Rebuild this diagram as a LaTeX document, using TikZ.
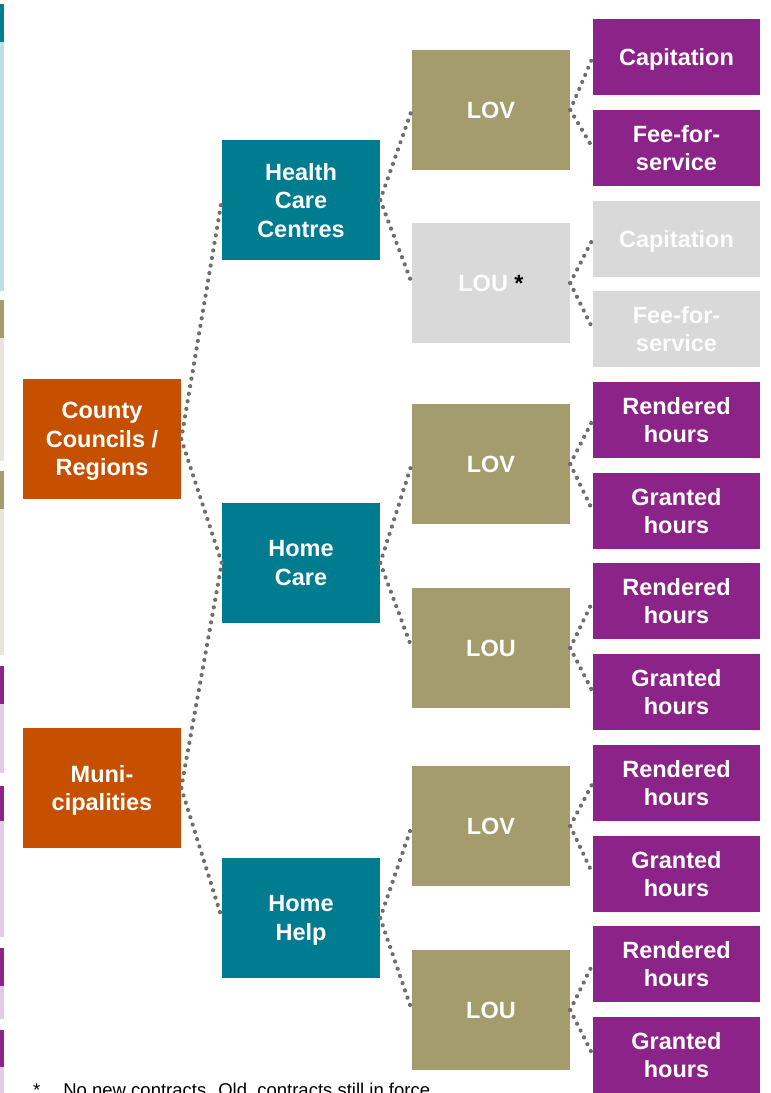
\documentclass[tikz,border=0pt]{standalone}
\usepackage{fontspec}
\setmainfont{Liberation Sans}
\definecolor{cOrange}{RGB}{199,80,0}
\definecolor{cTeal}{RGB}{0,124,145}
\definecolor{cTealL}{RGB}{191,223,228}
\definecolor{cOlive}{RGB}{164,156,108}
\definecolor{cOliveL}{RGB}{232,230,218}
\definecolor{cPurple}{RGB}{139,35,136}
\definecolor{cPurpleL}{RGB}{228,201,228}
\definecolor{cGrey}{RGB}{217,217,217}
\definecolor{cDot}{RGB}{110,110,110}
\begin{document}
\begin{tikzpicture}[x=1pt,y=-1pt,
  box/.style={minimum width=158pt,minimum height=120pt,inner sep=0pt,align=center,
    text depth=0pt,text=white,font=\fontsize{23.5}{28.5}\selectfont\bfseries},
  orangebox/.style={box,fill=cOrange},
  tealbox/.style={box,fill=cTeal},
  olivebox/.style={box,fill=cOlive},
  greybox/.style={box,fill=cGrey,text=white!95!cGrey},
  leafbox/.style={box,minimum width=167pt,minimum height=76pt,fill=cPurple},
  greyleaf/.style={leafbox,fill=cGrey,text=white!95!cGrey},
  link/.style={draw=cDot,line width=4.2pt,line cap=round,dash pattern=on 0.05pt off 7.6pt}]
\useasboundingbox (0,0) rectangle (771,1093);
\clip (0,0) rectangle (771,1093);
% left strips
\fill[cTeal] (0,4) rectangle (4,42);
\fill[cTealL] (0,42) rectangle (4,291);
\fill[cOlive] (0,300) rectangle (4,338);
\fill[cOliveL] (0,338) rectangle (4,461);
\fill[cOlive] (0,471) rectangle (4,509);
\fill[cOliveL] (0,509) rectangle (4,655);
\fill[cPurple] (0,666) rectangle (4,704);
\fill[cPurpleL] (0,704) rectangle (4,773);
\fill[cPurple] (0,786) rectangle (4,821);
\fill[cPurpleL] (0,821) rectangle (4,937);
\fill[cPurple] (0,948) rectangle (4,986);
\fill[cPurpleL] (0,986) rectangle (4,1019);
\fill[cPurple] (0,1030) rectangle (4,1067);
\fill[cPurpleL] (0,1067) rectangle (4,1093);
% level 1
\node[orangebox] (cc) at (102,439) {County\\Councils /\\Regions};
\node[orangebox] (mu) at (102,788) {Muni-\\cipalities};
% level 2
\node[tealbox] (hcc) at (301,200) {Health\\Care\\Centres};
\node[tealbox] (hc) at (301,563) {Home\\Care};
\node[tealbox] (hh) at (301,918) {Home\\Help};
% level 3
\node[olivebox] (lov1) at (491,110) {LOV};
\node[greybox] (lou1) at (491,283) {LOU \textcolor{black}{*}};
\node[olivebox] (lov2) at (491,464) {LOV};
\node[olivebox] (lou2) at (491,648) {LOU};
\node[olivebox] (lov3) at (491,826) {LOV};
\node[olivebox] (lou3) at (491,1010) {LOU};
% level 4
\node[leafbox] (p1) at (676.5,57) {Capitation};
\node[leafbox] (p2) at (676.5,148) {Fee-for-\\service};
\node[greyleaf] (p3) at (676.5,239) {Capitation};
\node[greyleaf] (p4) at (676.5,329) {Fee-for-\\service};
\node[leafbox] (p5) at (676.5,420) {Rendered\\hours};
\node[leafbox] (p6) at (676.5,511) {Granted\\hours};
\node[leafbox] (p7) at (676.5,601) {Rendered\\hours};
\node[leafbox] (p8) at (676.5,692) {Granted\\hours};
\node[leafbox] (p9) at (676.5,783) {Rendered\\hours};
\node[leafbox] (p10) at (676.5,874) {Granted\\hours};
\node[leafbox] (p11) at (676.5,964) {Rendered\\hours};
\node[leafbox] (p12) at (676.5,1055) {Granted\\hours};
% connectors
\draw[link] (cc.east) -- (hcc.west);
\draw[link] (cc.east) -- (hc.west);
\draw[link] (mu.east) -- (hc.west);
\draw[link] (mu.east) -- (hh.west);
\draw[link] (hcc.east) -- (lov1.west);
\draw[link] (hcc.east) -- (lou1.west);
\draw[link] (hc.east) -- (lov2.west);
\draw[link] (hc.east) -- (lou2.west);
\draw[link] (hh.east) -- (lov3.west);
\draw[link] (hh.east) -- (lou3.west);
\draw[link] (lov1.east) -- (p1.west);
\draw[link] (lov1.east) -- (p2.west);
\draw[link] (lou1.east) -- (p3.west);
\draw[link] (lou1.east) -- (p4.west);
\draw[link] (lov2.east) -- (p5.west);
\draw[link] (lov2.east) -- (p6.west);
\draw[link] (lou2.east) -- (p7.west);
\draw[link] (lou2.east) -- (p8.west);
\draw[link] (lov3.east) -- (p9.west);
\draw[link] (lov3.east) -- (p10.west);
\draw[link] (lou3.east) -- (p11.west);
\draw[link] (lou3.east) -- (p12.west);
% footnote
\node[anchor=base west,inner sep=0pt,font=\fontsize{18.5}{22}\selectfont] (fn) at (33,1096) {*\hspace{23pt}No new contracts. Old\ \ contracts still in force.};
\end{tikzpicture}
\end{document}
